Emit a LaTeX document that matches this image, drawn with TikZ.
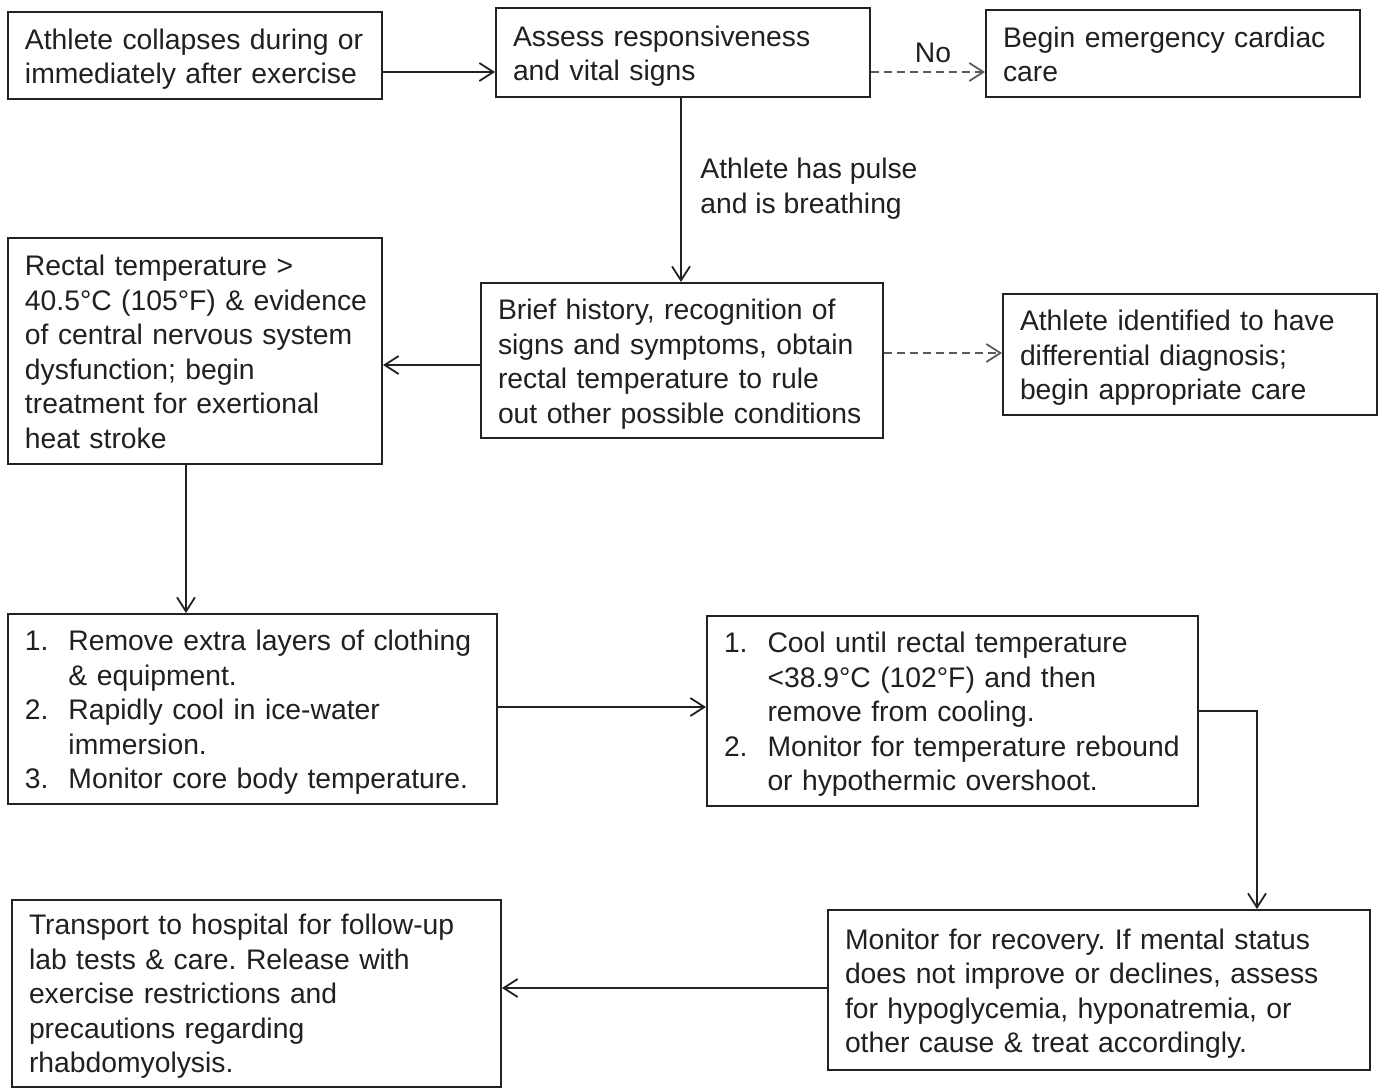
\documentclass[tikz,border=0pt]{standalone}
\usepackage{fontspec}
\setmainfont{Liberation Sans}
\usetikzlibrary{arrows.meta}
\definecolor{linec}{HTML}{222222}
\definecolor{txtc}{HTML}{231F20}
\definecolor{dashc}{HTML}{5A5A5A}
\frenchspacing
\newcommand\boxlines[1]{\raisebox{-2pt}[\height][\depth]{\begin{tabular}[c]{@{}l@{}}#1\end{tabular}}}
\newcommand\itm[1]{\makebox[21.75pt][l]{#1}}
\newcommand\ind{\hspace*{21.75pt}}
\begin{document}
\begin{tikzpicture}[x=0.5pt,y=-0.5pt,
  box/.style={draw=linec, line width=1pt, rectangle, inner xsep=8.5pt, inner ysep=0pt,
    align=left, text=txtc, font=\fontsize{14.15}{17.25}\selectfont\frenchspacing, anchor=center},
  lbl/.style={text=txtc, font=\fontsize{14.15}{17.25}\selectfont, align=left, inner sep=0pt},
  arr/.style={draw=linec, line width=0.9pt, -{Straight Barb[length=7pt,width=9pt,line width=0.9pt]}},
  darr/.style={arr, draw=dashc, dash pattern=on 4pt off 2.5pt}]
\useasboundingbox (0,0) rectangle (1378,1088);
\fill[white] (0,0) rectangle (1378,1088);

\node[box, text width=170pt, minimum width=187pt, minimum height=43.5pt] (a) at (195,55.5)
  {\boxlines{Athlete collapses during or\\immediately after exercise}};
\node[box, text width=170pt, minimum width=187pt, minimum height=44.5pt] (b) at (683,52.5)
  {\boxlines{Assess responsiveness\\and vital signs}};
\node[box, text width=170pt, minimum width=187pt, minimum height=43.5pt] (c) at (1173,53.5)
  {\boxlines{Begin emergency cardiac\\care}};
\node[box, text width=170pt, minimum width=187pt, minimum height=113pt] (d) at (195,351)
  {\boxlines{Rectal temperature >\\40.5°C (105°F) \& evidence\\of central nervous system\\dysfunction; begin\\treatment for exertional\\heat stroke}};
\node[box, text width=184pt, minimum width=201pt, minimum height=77.5pt] (e) at (682,360.5)
  {\boxlines{Brief history, recognition of\\signs and symptoms, obtain\\rectal temperature to rule\\out other possible conditions}};
\node[box, text width=170pt, minimum width=187pt, minimum height=60.5pt] (f) at (1190,354.5)
  {\boxlines{Athlete identified to have\\differential diagnosis;\\begin appropriate care}};
\node[box, text width=227.5pt, minimum width=244.5pt, minimum height=95pt] (g) at (252.5,709)
  {\boxlines{\itm{1.}Remove extra layers of clothing\\\ind\& equipment.\\\itm{2.}Rapidly cool in ice-water\\\ind immersion.\\\itm{3.}Monitor core body temperature.}};
\node[box, text width=228.5pt, minimum width=245.5pt, minimum height=95pt] (h) at (952.5,711)
  {\boxlines{\itm{1.}Cool until rectal temperature\\\ind<38.9°C (102°F) and then\\\ind remove from cooling.\\\itm{2.}Monitor for temperature rebound\\\ind or hypothermic overshoot.}};
\node[box, text width=227.5pt, minimum width=244.5pt, minimum height=93.5pt] (i) at (256.5,993)
  {\boxlines{Transport to hospital for follow-up\\lab tests \& care. Release with\\exercise restrictions and\\precautions regarding\\rhabdomyolysis.}};
\node[box, text width=254pt, minimum width=271pt, minimum height=80pt] (j) at (1099,990)
  {\boxlines{Monitor for recovery. If mental status\\does not improve or declines, assess\\for hypoglycemia, hyponatremia, or\\other cause \& treat accordingly.}};

\node[lbl] (no) at (933,53) {No};
\node[lbl, anchor=west] (pulse) at (700,185) {\boxlines{Athlete has pulse\\and is breathing}};

\draw[arr] (a.east |- 0,72) -- (b.west |- 0,72);
\draw[darr] (b.east |- 0,72) -- (c.west |- 0,72);
\draw[arr] (b.south -| 681,0) -- (e.north -| 681,0);
\draw[arr] (e.west |- 0,365) -- (d.east |- 0,365);
\draw[darr] (e.east |- 0,353) -- (f.west |- 0,353);
\draw[arr] (d.south -| 186,0) -- (g.north -| 186,0);
\draw[arr] (g.east |- 0,707) -- (h.west |- 0,707);
\draw[arr] (h.east |- 0,711) -| (j.north -| 1257,0);
\draw[arr] (j.west |- 0,988) -- (i.east |- 0,988);
\end{tikzpicture}
\end{document}
